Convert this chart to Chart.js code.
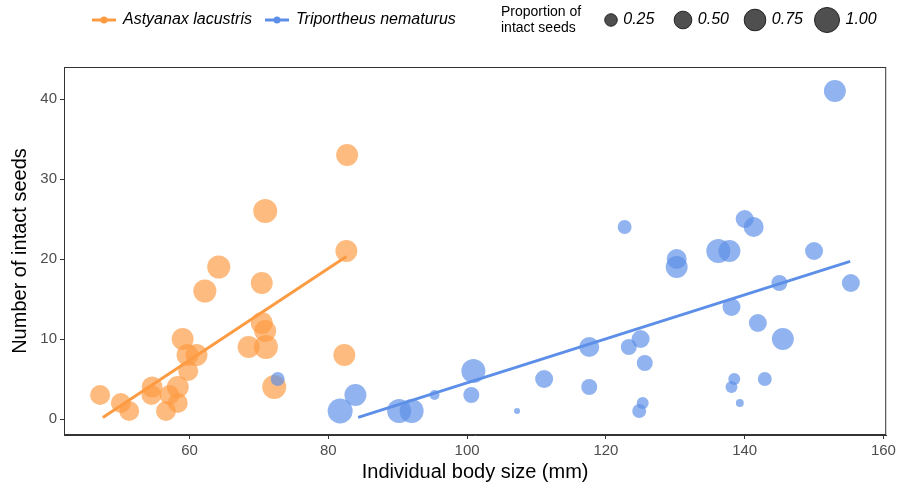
<!DOCTYPE html>
<html>
<head>
<meta charset="utf-8">
<script src="https://cdn.jsdelivr.net/npm/chart.js@4"></script>
<style>
  html, body { margin: 0; padding: 0; background: #fff; }
  #wrap { width: 899px; height: 487px; }
</style>
</head>
<body>
<div id="wrap"><canvas id="chart" width="899" height="487"></canvas></div>
<script>
// Astyanax lacustris
const orangeX = [82.7, 70.9, 82.6, 64.2, 62.2, 70.4, 70.4, 70.9, 68.5, 71.0, 82.3, 59.0, 59.7, 61.0, 59.8, 58.3, 72.2, 54.6, 54.5, 57.1, 58.3, 56.6, 47.1, 50.1, 51.3];
const orangeY = [33, 26, 21, 19, 16, 17, 12, 11, 9, 9, 8, 10, 8, 8, 6, 4, 4, 4, 3, 3, 2, 1, 3, 2, 1];
const orangeP = [0.77, 0.92, 0.77, 0.85, 0.85, 0.77, 0.77, 0.77, 0.77, 0.92, 0.77, 0.77, 0.77, 0.77, 0.64, 0.77, 0.92, 0.7, 0.64, 0.64, 0.64, 0.64, 0.64, 0.64, 0.64];

// Triportheus nematurus
const blueX = [72.7, 81.7, 83.9, 90.2, 92.0, 95.3, 100.9, 100.6, 107.2, 111.1, 117.6, 117.6, 122.7, 123.3, 125.0, 125.6, 125.3, 124.8, 130.2, 130.2, 136.2, 137.8, 138.1, 138.5, 138.1, 139.3, 140.0, 141.3, 141.9, 142.9, 145.0, 145.5, 150.0, 153.0, 155.3];
const blueY = [5, 1, 3, 1, 1, 3, 6, 3, 1, 5, 9, 4, 24, 9, 10, 7, 2, 1, 20, 19, 21, 21, 14, 5, 4, 2, 25, 24, 12, 5, 17, 10, 21, 41, 17];
const blueP = [0.31, 1.0, 0.77, 0.92, 0.92, 0.16, 0.92, 0.41, 0.06, 0.52, 0.64, 0.41, 0.31, 0.41, 0.52, 0.41, 0.23, 0.31, 0.64, 0.77, 0.92, 0.77, 0.52, 0.23, 0.23, 0.1, 0.52, 0.64, 0.52, 0.31, 0.41, 0.77, 0.52, 0.77, 0.52];

// fitted lines (end points)
const orangeFitX = [47.5, 82.6];
const orangeFitY = [0.2, 20.3];
const blueFitX = [84.3, 155.2];
const blueFitY = [0.2, 19.7];

const xTicks = [60, 80, 100, 120, 140, 160];
const yTicks = [0, 10, 20, 30, 40];
const sizeLevels = [0.25, 0.5, 0.75, 1.0];

const ORANGE = '#fd9b43';
const BLUE = '#5d8fe8';
const MAXR = 12.5;
const FONT = '"Liberation Sans", Arial, sans-serif';
const radius = p => MAXR * Math.sqrt(p);

const pts = (xs, ys) => xs.map((x, i) => ({ x: x, y: ys[i] }));

// legend + panel box
const decor = {
  id: 'decor',
  afterDraw(chart) {
    const ctx = chart.ctx;
    const a = chart.chartArea;
    ctx.save();
    ctx.strokeStyle = '#333';
    ctx.lineWidth = 1;
    ctx.strokeRect(a.left + 0.5, a.top + 0.5, a.right - a.left - 1, a.bottom - a.top - 1);

    const ly = 20;
    const keys = [
      { x: 92, color: ORANGE, text: 'Astyanax lacustris' },
      { x: 265, color: BLUE, text: 'Triportheus nematurus' }
    ];
    ctx.textBaseline = 'middle';
    keys.forEach(k => {
      ctx.strokeStyle = k.color;
      ctx.lineWidth = 3;
      ctx.beginPath();
      ctx.moveTo(k.x, ly);
      ctx.lineTo(k.x + 24, ly);
      ctx.stroke();
      ctx.fillStyle = k.color;
      ctx.beginPath();
      ctx.arc(k.x + 12, ly, 3.5, 0, Math.PI * 2);
      ctx.fill();
      ctx.fillStyle = '#000';
      ctx.font = 'italic 16px ' + FONT;
      ctx.fillText(k.text, k.x + 31, ly);
    });

    ctx.font = '14px ' + FONT;
    ctx.fillStyle = '#000';
    ctx.fillText('Proportion of', 501, 12);
    ctx.fillText('intact seeds', 501, 28);

    const cx = [611, 683, 755, 827];
    sizeLevels.forEach((p, i) => {
      ctx.fillStyle = 'rgba(60,60,60,0.9)';
      ctx.strokeStyle = '#222';
      ctx.lineWidth = 1;
      ctx.beginPath();
      ctx.arc(cx[i], ly, radius(p), 0, Math.PI * 2);
      ctx.fill();
      ctx.stroke();
      ctx.fillStyle = '#000';
      ctx.font = 'italic 16px ' + FONT;
      ctx.fillText(p.toFixed(2), cx[i] + radius(p) + 6, ly);
    });
    ctx.restore();
  }
};

new Chart(document.getElementById('chart'), {
  type: 'scatter',
  data: {
    datasets: [
      {
        type: 'line',
        data: pts(orangeFitX, orangeFitY),
        borderColor: ORANGE,
        borderWidth: 3,
        pointRadius: 0,
        order: 0
      },
      {
        type: 'line',
        data: pts(blueFitX, blueFitY),
        borderColor: BLUE,
        borderWidth: 3,
        pointRadius: 0,
        order: 0
      },
      {
        data: pts(blueX, blueY),
        backgroundColor: 'rgba(93,143,232,0.68)',
        borderWidth: 0,
        pointRadius: ctx => radius(blueP[ctx.dataIndex]),
        order: 1
      },
      {
        data: pts(orangeX, orangeY),
        backgroundColor: 'rgba(253,155,67,0.68)',
        borderWidth: 0,
        pointRadius: ctx => radius(orangeP[ctx.dataIndex]),
        order: 2
      }
    ]
  },
  options: {
    responsive: false,
    animation: false,
    layout: { padding: { left: 8, top: 67, right: 8, bottom: 3 } },
    plugins: { legend: { display: false }, tooltip: { enabled: false } },
    scales: {
      x: {
        type: 'linear',
        min: 41.9,
        max: 160.4,
        afterBuildTicks: s => { s.ticks = xTicks.map(v => ({ value: v })); },
        afterFit: s => { s.height = 49; },
        grid: { drawOnChartArea: false, drawTicks: true, tickLength: 4, color: '#333' },
        border: { color: '#333' },
        ticks: { color: '#4d4d4d', padding: 3, font: { family: FONT, size: 15 } },
        title: { display: true, text: 'Individual body size (mm)', color: '#000', padding: { top: 1, bottom: 0 },
                 font: { family: FONT, size: 20 } }
      },
      y: {
        min: -2,
        max: 44,
        afterBuildTicks: s => { s.ticks = yTicks.map(v => ({ value: v })); },
        afterFit: s => { s.width = 56; },
        grid: { drawOnChartArea: false, drawTicks: true, tickLength: 4, color: '#333' },
        border: { color: '#333' },
        ticks: { color: '#4d4d4d', padding: 3, font: { family: FONT, size: 15 } },
        title: { display: true, text: 'Number of intact seeds', color: '#000', padding: { top: 0, bottom: 0 },
                 font: { family: FONT, size: 20 } }
      }
    }
  },
  plugins: [decor]
});
</script>
</body>
</html>
